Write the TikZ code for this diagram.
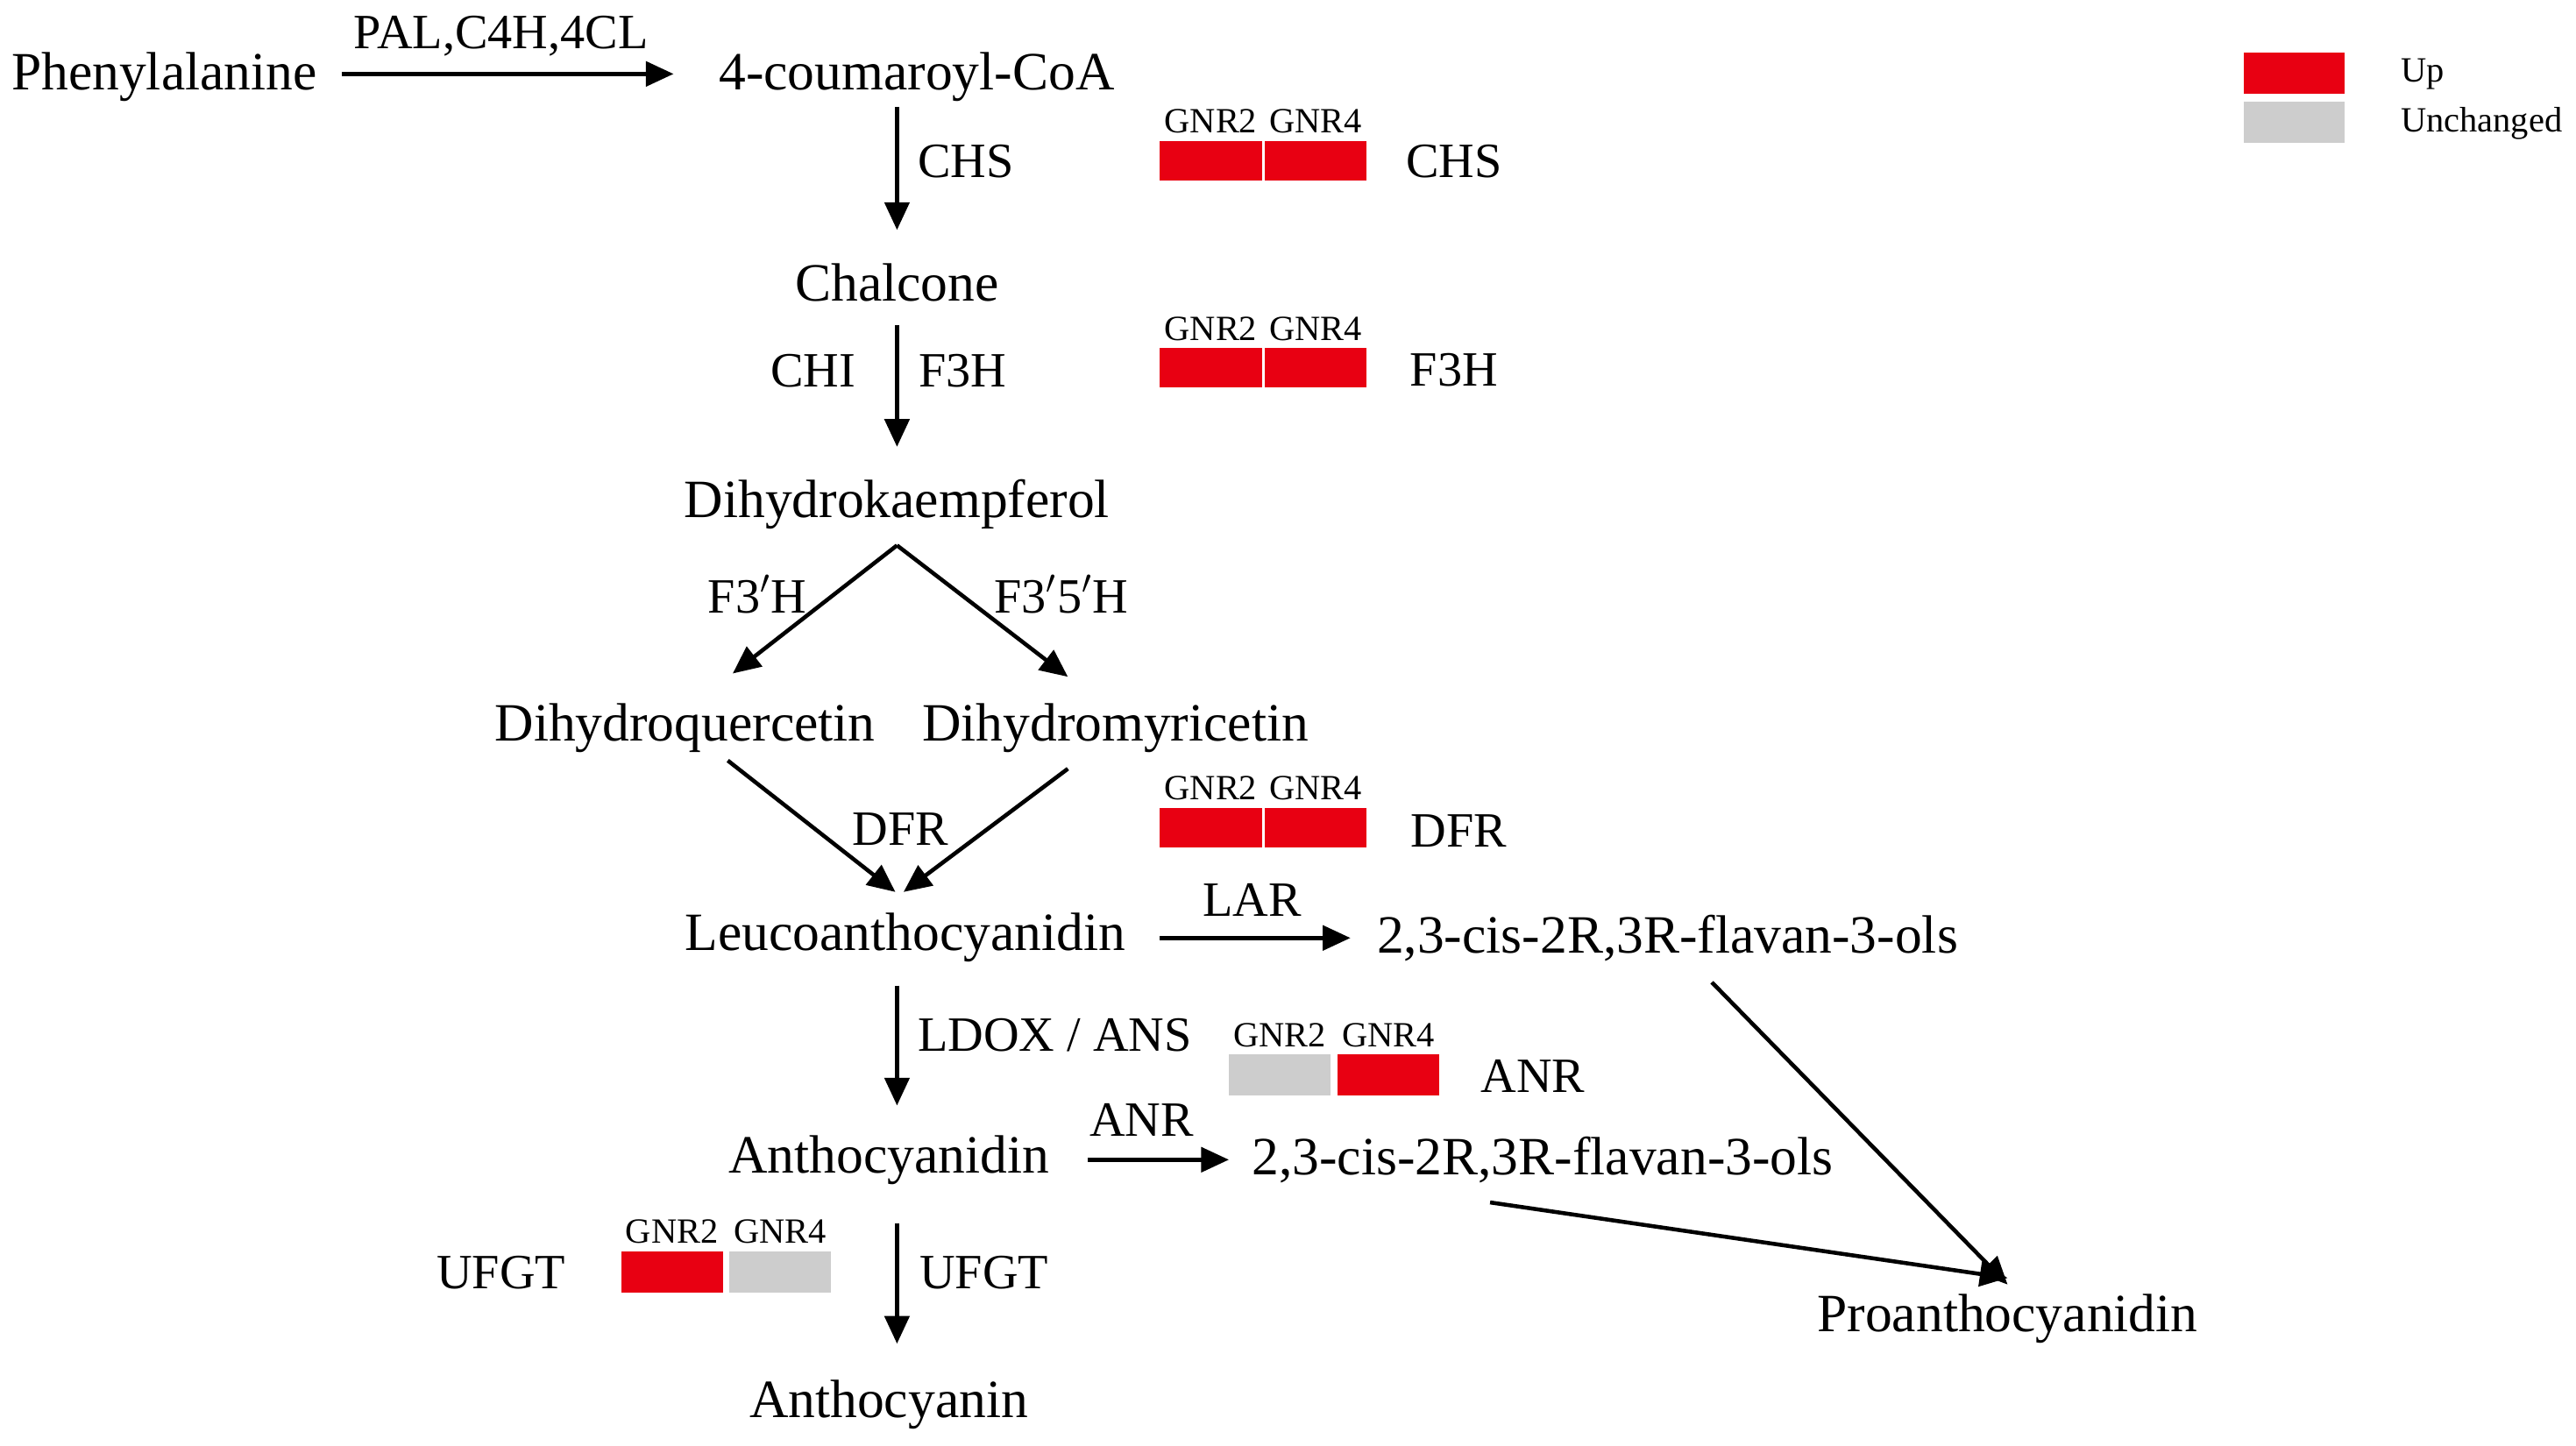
\documentclass[tikz,border=0pt]{standalone}
\usepackage{fontspec}
\setmainfont{Liberation Serif}
\usetikzlibrary{arrows.meta}
\definecolor{upred}{RGB}{232,0,18}
\definecolor{ungray}{RGB}{205,205,205}
\begin{document}
\begin{tikzpicture}[x=0.018744cm,y=-0.018744cm,
  cmp/.style={inner sep=0pt,font=\fontsize{17.5}{20}\selectfont},
  lab/.style={inner sep=0pt,font=\fontsize{16}{19}\selectfont},
  sm/.style={inner sep=0pt,font=\fontsize{11.5}{13}\selectfont},
  arr/.style={line width=1.3pt,-{Triangle[length=9pt,width=8pt]}},
  up/.style={fill=upred,draw=none},
  un/.style={fill=ungray,draw=none}]
\useasboundingbox (0,0) rectangle (1568,880);
% compounds
\node[cmp] (phe) at (100,47) {Phenylalanine};
\node[cmp] (cou) at (558,47) {4-coumaroyl-CoA};
\node[cmp] (cha) at (546,172) {Chalcone};
\node[cmp] (dhk) at (546,307) {Dihydrokaempferol};
\node[cmp] (dhq) at (417,443) {Dihydroquercetin};
\node[cmp] (dhm) at (679,443) {Dihydromyricetin};
\node[cmp] (leu) at (551,571) {Leucoanthocyanidin};
\node[cmp] (fl1) at (1015,571) {2,3-cis-2R,3R-flavan-3-ols};
\node[cmp] (ant) at (541,706) {Anthocyanidin};
\node[cmp] (fl2) at (939,706) {2,3-cis-2R,3R-flavan-3-ols};
\node[cmp] (pro) at (1222,803) {Proanthocyanidin};
\node[cmp] (acn) at (541,855) {Anthocyanin};
% arrow end points
\coordinate (a1s) at (208,45); \coordinate (a1e) at (410,45);
\coordinate (a2s) at (546,65); \coordinate (a2e) at (546,140);
\coordinate (a3s) at (546,198); \coordinate (a3e) at (546,272);
\coordinate (a4s) at (546,332); \coordinate (a4e) at (446,410); \coordinate (a5e) at (650,412);
\coordinate (a6s) at (443,463); \coordinate (a6e) at (545,543);
\coordinate (a7s) at (650,468); \coordinate (a7e) at (550,543);
\coordinate (a8s) at (706,571); \coordinate (a8e) at (822,571);
\coordinate (a9s) at (546,600); \coordinate (a9e) at (546,673);
\coordinate (a10s) at (662,706); \coordinate (a10e) at (748,706);
\coordinate (a11s) at (1042,598); \coordinate (a11e) at (1222,782);
\coordinate (a12s) at (907,732); \coordinate (a12e) at (1222,778);
\coordinate (a13s) at (546,745); \coordinate (a13e) at (546,818);
\draw[arr] (a1s) -- (a1e);
\draw[arr] (a2s) -- (a2e);
\draw[arr] (a3s) -- (a3e);
\draw[arr] (a4s) -- (a4e);
\draw[arr] (a4s) -- (a5e);
\draw[arr] (a6s) -- (a6e);
\draw[arr] (a7s) -- (a7e);
\draw[arr] (a8s) -- (a8e);
\draw[arr] (a9s) -- (a9e);
\draw[arr] (a10s) -- (a10e);
\draw[arr] (a11s) -- (a11e);
\draw[arr] (a12s) -- (a12e);
\draw[arr] (a13s) -- (a13e);
% enzyme labels
\node[lab] (l1) at (305,22) {PAL,C4H,4CL};
\node[lab] (l2) at (588,98) {CHS};
\node[lab] (l3) at (495,226) {CHI};
\node[lab] (l4) at (586,226) {F3H};
\node[lab] (l5) at (461,362) {F3$'$H};
\node[lab] (l6) at (646,362) {F3$'$5$'$H};
\node[lab] (l7) at (548,505) {DFR};
\node[lab] (l8) at (762,548) {LAR};
\node[lab] (l9) at (642,630) {LDOX / ANS};
\node[lab] (l10) at (695,682) {ANR};
\node[lab] (l11) at (599,775) {UFGT};
% heat boxes
\foreach \y/\n in {98/CHS,224/F3H,504/DFR}{
  \fill[up] (706,\y-12) rectangle (768,\y+12);
  \fill[up] (770,\y-12) rectangle (832,\y+12);
  \node[sm] at (737,\y-24) {GNR2};
  \node[sm] at (801,\y-24) {GNR4};
}
\node[lab] (g1) at (885,98) {CHS};
\node[lab] (g2) at (885,225) {F3H};
\node[lab] (g3) at (888,506) {DFR};
\fill[un] (748,642) rectangle (810,667);
\fill[up] (814,642) rectangle (876,667);
\node[sm] at (779,630) {GNR2};
\node[sm] at (845,630) {GNR4};
\node[lab] (g4) at (933,655) {ANR};
\fill[up] (378,762) rectangle (440,787);
\fill[un] (444,762) rectangle (506,787);
\node[sm] at (409,750) {GNR2};
\node[sm] at (475,750) {GNR4};
\node[lab] (g5) at (305,775) {UFGT};
% legend
\fill[up] (1366,32) rectangle (1427,57);
\fill[un] (1366,62) rectangle (1427,87);
\node[sm,anchor=west] (up) at (1461,45) {Up};
\node[sm,anchor=west] (unc) at (1461,75) {Unchanged};
\end{tikzpicture}
\end{document}
